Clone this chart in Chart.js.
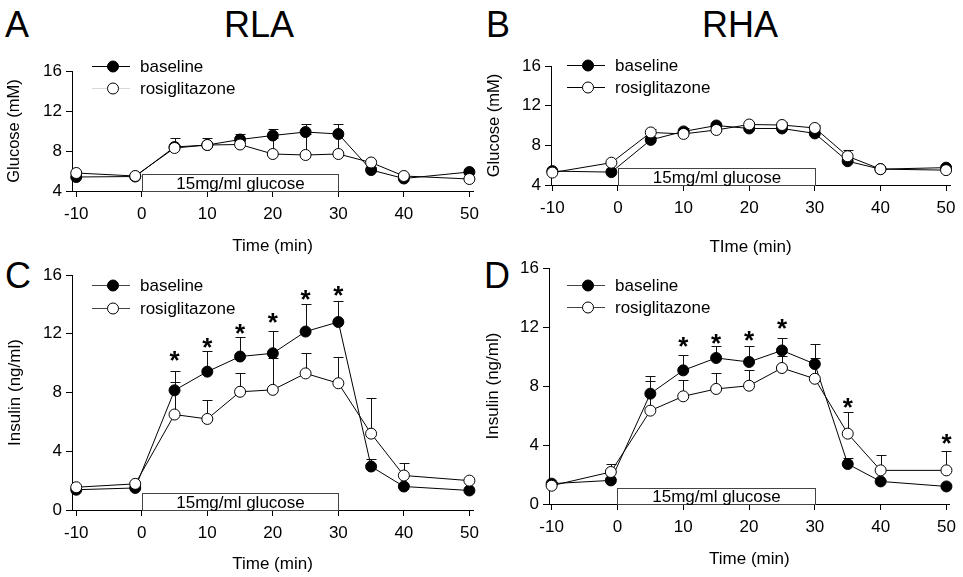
<!DOCTYPE html>
<html><head><meta charset="utf-8">
<script src="https://cdn.jsdelivr.net/npm/chart.js@4.4.1/dist/chart.umd.min.js"></script>
<style>
body{margin:0;background:#fff;width:963px;height:577px;overflow:hidden;position:relative;font-family:Arial,"Liberation Sans",sans-serif}
canvas{position:absolute;left:0;top:0}
.lbl{position:absolute;font-family:Arial,"Liberation Sans",sans-serif;color:#000;line-height:1;font-size:36px;white-space:nowrap}
</style></head><body>
<div class="lbl" style="left:5px;top:7px">A</div>
<div class="lbl" style="left:224px;top:7px">RLA</div>
<div class="lbl" style="left:486px;top:7px">B</div>
<div class="lbl" style="left:702px;top:7px">RHA</div>
<div class="lbl" style="left:5px;top:258px">C</div>
<div class="lbl" style="left:484px;top:258px">D</div>
<canvas id="cA" width="963" height="577"></canvas>
<canvas id="cB" width="963" height="577"></canvas>
<canvas id="cC" width="963" height="577"></canvas>
<canvas id="cD" width="963" height="577"></canvas>
<script>
const timeMin = [-10, -1, 5, 10, 15, 20, 25, 30, 35, 40, 50];
const xTicks = [-10, 0, 10, 20, 30, 40, 50];
const glucoseTicks = [4, 8, 12, 16];
const insulinTicks = [0, 4, 8, 12, 16];
const seriesNames = ['baseline', 'rosiglitazone'];
const boxLabel = '15mg/ml glucose';

// A: RLA glucose
const rlaGlucoseBaseline    = [5.4, 5.45, 8.4, 8.6, 9.15, 9.55, 9.9, 9.7, 6.1, 5.25, 5.9];
const rlaGlucoseBaselineSem = [0.2, 0.2, 0.87, 0.73, 0.6, 0.7, 0.8, 1.0, 0.3, 0.2, 0.2];
const rlaGlucoseRosi        = [5.8, 5.5, 8.3, 8.6, 8.65, 7.7, 7.6, 7.7, 6.85, 5.5, 5.2];
const rlaGlucoseRosiSem     = [0.2, 0.2, 0.3, 0.3, 0.3, 1.6, 2.1, 1.8, 0.3, 0.2, 0.2];
// B: RHA glucose
const rhaGlucoseBaseline    = [5.4, 5.3, 8.55, 9.4, 10.0, 9.7, 9.7, 9.2, 6.4, 5.6, 5.75];
const rhaGlucoseBaselineSem = [0.2, 0.2, 0.3, 0.3, 0.3, 0.3, 0.3, 0.3, 0.3, 0.2, 0.2];
const rhaGlucoseRosi        = [5.25, 6.25, 9.3, 9.15, 9.55, 10.1, 10.05, 9.75, 6.9, 5.6, 5.5];
const rhaGlucoseRosiSem     = [0.2, 0.2, 0.3, 0.3, 0.3, 0.3, 0.3, 0.3, 0.6, 0.2, 0.2];
// C: RLA insulin
const rlaInsulinBaseline    = [1.38, 1.5, 8.15, 9.42, 10.45, 10.67, 12.15, 12.8, 2.96, 1.6, 1.33];
const rlaInsulinBaselineSem = [0.1, 0.1, 1.3, 1.4, 1.35, 1.55, 1.9, 1.4, 0.5, 0.1, 0.1];
const rlaInsulinRosi        = [1.55, 1.78, 6.5, 6.2, 8.05, 8.18, 9.3, 8.63, 5.2, 2.35, 2.0];
const rlaInsulinRosiSem     = [0.1, 0.1, 2.2, 1.3, 1.25, 2.2, 1.4, 1.8, 2.4, 0.85, 0.1];
const rlaInsulinStars       = [null, null, 10.67, 11.6, 12.5, 13.3, 14.86, 15.1, null, null, null];
// D: RHA insulin
const rhaInsulinBaseline    = [1.38, 1.6, 7.48, 9.06, 9.9, 9.63, 10.41, 9.49, 2.71, 1.53, 1.19];
const rhaInsulinBaselineSem = [0.1, 0.1, 1.17, 1.02, 0.83, 1.06, 0.86, 1.38, 0.41, 0.1, 0.1];
const rhaInsulinRosi        = [1.24, 2.17, 6.33, 7.3, 7.8, 8.02, 9.22, 8.49, 4.77, 2.28, 2.28];
const rhaInsulinRosiSem     = [0.1, 0.54, 1.98, 1.08, 1.08, 1.04, 0.8, 1.4, 1.44, 1.02, 1.29];
const rhaInsulinStars       = [null, null, null, 11.2, 11.41, 11.59, 12.38, null, 7.07, null, 4.58];

const FONT = 'Arial, "Liberation Sans", sans-serif';

const overlay = {
  id: 'overlay',
  beforeDatasetsDraw(chart) {
    const o = chart.options.plugins.overlay;
    const {ctx, scales: {x, y}} = chart;
    ctx.save();
    // glucose infusion box
    const x0 = Math.round(x.getPixelForValue(0)) + 0.5, x1 = Math.round(x.getPixelForValue(30)) + 0.5;
    const yb = Math.round(y.getPixelForValue(y.min)) + 0.5, yt = Math.round(y.getPixelForValue(o.boxTop)) + 0.5;
    ctx.fillStyle = '#fff';
    ctx.fillRect(x0, yt, x1 - x0, yb - yt);
    ctx.strokeStyle = '#444'; ctx.lineWidth = 1;
    ctx.strokeRect(x0, yt, x1 - x0, yb - yt);
    ctx.fillStyle = '#000'; ctx.font = '17px ' + FONT;
    ctx.textAlign = 'center'; ctx.textBaseline = 'middle';
    ctx.fillText(boxLabel, (x0 + x1) / 2, (yt + yb) / 2 + 1);
    // error bars (upper only)
    chart.data.datasets.forEach((ds) => {
      ctx.strokeStyle = '#111'; ctx.lineWidth = 1;
      ds.data.forEach((pt, j) => {
        const e = ds.sem[j];
        const px = Math.round(x.getPixelForValue(pt.x)) + 0.5;
        const py = y.getPixelForValue(pt.y);
        const pe = Math.round(y.getPixelForValue(pt.y + e)) + 0.5;
        ctx.beginPath();
        ctx.moveTo(px, py); ctx.lineTo(px, pe);
        ctx.moveTo(px - 5, pe); ctx.lineTo(px + 5, pe);
        ctx.stroke();
      });
    });
    ctx.restore();
  },
  afterDatasetsDraw(chart) {
    const o = chart.options.plugins.overlay;
    const {ctx, chartArea, scales: {x, y}} = chart;
    ctx.save();
    // significance stars
    if (o.stars) {
      ctx.fillStyle = '#000'; ctx.font = 'bold 26px ' + FONT;
      ctx.textAlign = 'center'; ctx.textBaseline = 'alphabetic';
      o.stars.forEach((v, j) => {
        if (v === null) return;
        ctx.fillText('*', x.getPixelForValue(timeMin[j]), y.getPixelForValue(v) + 16);
      });
    }
    // legend
    const lg = o.legend;
    const mx = chartArea.left + lg.x;
    lg.rows.forEach((r, i) => {
      const yy = Math.round(chartArea.top + r) + 0.5;
      ctx.strokeStyle = lg.lineColors[i]; ctx.lineWidth = 1;
      ctx.beginPath(); ctx.moveTo(mx - 21, yy); ctx.lineTo(mx + 17, yy); ctx.stroke();
      ctx.beginPath(); ctx.arc(mx, yy, 5.5, 0, Math.PI * 2);
      ctx.fillStyle = i === 0 ? '#000' : '#fff'; ctx.fill();
      ctx.strokeStyle = '#000'; ctx.stroke();
      ctx.fillStyle = '#000'; ctx.font = '17px ' + FONT;
      ctx.textAlign = 'left'; ctx.textBaseline = 'middle';
      ctx.fillText(seriesNames[i], mx + 27, yy + 1);
    });
    ctx.restore();
  }
};

function pts(vals) { return vals.map((v, i) => ({x: timeMin[i], y: v})); }

function makePanel(id, p) {
  const W = 963, H = 577;
  new Chart(document.getElementById(id), {
    type: 'line',
    data: {
      datasets: [
        {label: seriesNames[1], data: pts(p.rosi), sem: p.rosiSem, order: 0,
         borderColor: '#000', borderWidth: 1, pointRadius: 5.5, pointBackgroundColor: '#fff',
         pointBorderColor: '#000', pointBorderWidth: 1, tension: 0, clip: false},
        {label: seriesNames[0], data: pts(p.base), sem: p.baseSem, order: 1,
         borderColor: '#000', borderWidth: 1, pointRadius: 5.5, pointBackgroundColor: '#000',
         pointBorderColor: '#000', pointBorderWidth: 1, tension: 0, clip: false}
      ]
    },
    options: {
      responsive: false, animation: false, devicePixelRatio: 1,
      layout: {padding: {left: p.panelLeft, top: p.top, right: W - p.right, bottom: H - p.scaleBottom}},
      plugins: {
        legend: {display: false}, tooltip: {enabled: false},
        overlay: {boxTop: p.boxTop, stars: p.stars, legend: p.legend}
      },
      scales: {
        x: {
          type: 'linear', min: p.xmin, max: p.xmax,
          afterBuildTicks: s => { s.ticks = xTicks.map(v => ({value: v})); },
          afterFit: s => { s.height = p.scaleBottom - p.bottom; },
          grid: {drawOnChartArea: false, tickLength: 6, color: '#000', tickColor: '#000'},
          border: {color: '#000', width: 1},
          ticks: {font: {size: 17, family: FONT}, color: '#000', padding: 7, maxRotation: 0, autoSkip: false},
          title: {display: true, text: p.xTitle, font: {size: 17, family: FONT}, color: '#000', padding: {top: 0, bottom: 0}}
        },
        y: {
          type: 'linear', min: p.ymin, max: 16,
          afterBuildTicks: s => { s.ticks = p.yTicks.map(v => ({value: v})); },
          afterFit: s => { s.width = p.left - p.panelLeft; },
          grid: {drawOnChartArea: false, tickLength: 6, color: '#000', tickColor: '#000'},
          border: {color: '#000', width: 1},
          ticks: {font: {size: 17, family: FONT}, color: '#000', padding: 4, autoSkip: false},
          title: {display: true, text: p.yTitle, font: {size: p.yTitleSize, family: FONT}, color: '#000', padding: {top: p.yTitlePad, bottom: 0}}
        }
      }
    },
    plugins: [overlay]
  });
}

makePanel('cA', {
  base: rlaGlucoseBaseline, baseSem: rlaGlucoseBaselineSem, rosi: rlaGlucoseRosi, rosiSem: rlaGlucoseRosiSem,
  panelLeft: 0, left: 72, top: 71, bottom: 191, right: 473, scaleBottom: 257,
  xmin: -10.65, xmax: 50.55, ymin: 4, yTicks: glucoseTicks, boxTop: 5.7, stars: null,
  xTitle: 'Time (min)', yTitle: 'Glucose (mM)', yTitlePad: 5, yTitleSize: 16.5,
  legend: {x: 41, rows: [-5, 16.7], lineColors: ['#000', '#d8d8d8']}
});
makePanel('cB', {
  base: rhaGlucoseBaseline, baseSem: rhaGlucoseBaselineSem, rosi: rhaGlucoseRosi, rosiSem: rhaGlucoseRosiSem,
  panelLeft: 480, left: 551, top: 66, bottom: 185, right: 950, scaleBottom: 257.5,
  xmin: -10.2, xmax: 50.6, ymin: 4, yTicks: glucoseTicks, boxTop: 5.7, stars: null,
  xTitle: 'TIme (min)', yTitle: 'Glucose (mM)', yTitlePad: 5, yTitleSize: 16.5,
  legend: {x: 37, rows: [-1, 21], lineColors: ['#000', '#000']}
});
makePanel('cC', {
  base: rlaInsulinBaseline, baseSem: rlaInsulinBaselineSem, rosi: rlaInsulinRosi, rosiSem: rlaInsulinRosiSem,
  panelLeft: 0, left: 72, top: 275, bottom: 510, right: 473, scaleBottom: 575,
  xmin: -10.65, xmax: 50.55, ymin: 0, yTicks: insulinTicks, boxTop: 1.15, stars: rlaInsulinStars,
  xTitle: 'Time (min)', yTitle: 'Insulin (ng/ml)', yTitlePad: 5, yTitleSize: 17,
  legend: {x: 41, rows: [10, 32.7], lineColors: ['#444', '#444']}
});
makePanel('cD', {
  base: rhaInsulinBaseline, baseSem: rhaInsulinBaselineSem, rosi: rhaInsulinRosi, rosiSem: rhaInsulinRosiSem,
  panelLeft: 480, left: 549, top: 268, bottom: 504, right: 950, scaleBottom: 570,
  xmin: -10.4, xmax: 50.5, ymin: 0, yTicks: insulinTicks, boxTop: 1.1, stars: rhaInsulinStars,
  xTitle: 'Time (min)', yTitle: 'Insulin (ng/ml)', yTitlePad: 3.3, yTitleSize: 17,
  legend: {x: 39, rows: [17.4, 39.4], lineColors: ['#444', '#444']}
});
</script>
</body></html>
